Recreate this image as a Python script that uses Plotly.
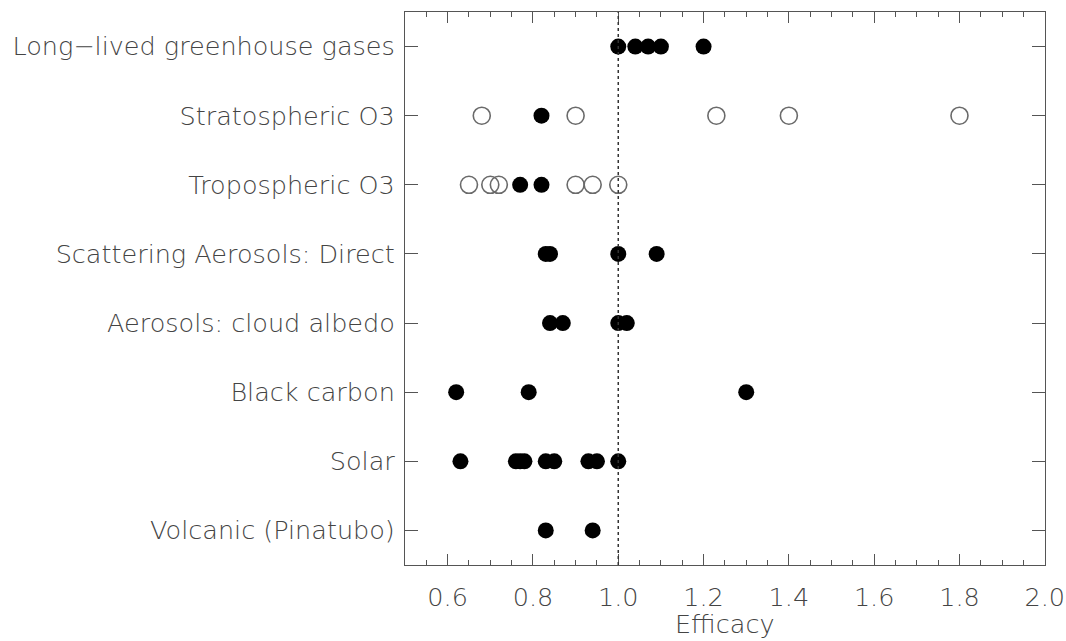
import plotly.graph_objects as go

categories = [
    "Long\u2212lived greenhouse gases",
    "Stratospheric O3",
    "Tropospheric O3",
    "Scattering Aerosols: Direct",
    "Aerosols: cloud albedo",
    "Black carbon",
    "Solar",
    "Volcanic (Pinatubo)",
]

filled_values = [
    [1.00, 1.04, 1.07, 1.10, 1.20],
    [0.82],
    [0.77, 0.82],
    [0.83, 0.84, 1.00, 1.09],
    [0.84, 0.87, 1.00, 1.02],
    [0.62, 0.79, 1.30],
    [0.63, 0.76, 0.77, 0.78, 0.83, 0.85, 0.93, 0.95, 1.00],
    [0.83, 0.94],
]

open_values = [
    [],
    [0.68, 0.90, 1.23, 1.40, 1.80],
    [0.65, 0.70, 0.72, 0.90, 0.94, 1.00],
    [],
    [],
    [],
    [],
    [],
]

x_ticks = [0.6, 0.8, 1.0, 1.2, 1.4, 1.6, 1.8, 2.0]
x_tick_labels = ["0.6", "0.8", "1.0", "1.2", "1.4", "1.6", "1.8", "2.0"]
x_title = "Efficacy"
reference_line = 1.0

fx, fy, ox, oy = [], [], [], []
for cat, fv, ov in zip(categories, filled_values, open_values):
    fx += fv
    fy += [cat] * len(fv)
    ox += ov
    oy += [cat] * len(ov)

FONT = "DejaVu Sans"
TXT = "#444444"
AX = "#555555"
FS = 25.5
tf = dict(family=FONT, size=FS, color=TXT, weight=200)

fig = go.Figure()
fig.add_trace(go.Scatter(
    x=ox, y=oy, mode="markers",
    marker=dict(symbol="circle-open", size=17, color="#6a6a6a", line=dict(width=1.6)),
    showlegend=False, hoverinfo="x+y",
))
fig.add_trace(go.Scatter(
    x=fx, y=fy, mode="markers",
    marker=dict(symbol="circle", size=16, color="black", line=dict(width=0)),
    showlegend=False, hoverinfo="x+y",
))

fig.add_shape(type="line", xref="x", yref="paper",
              x0=reference_line, x1=reference_line, y0=0, y1=1,
              line=dict(color="#333333", width=1.5, dash="dot"))

fig.add_annotation(text=x_title, xref="paper", yref="paper", x=0.5, y=0,
                   xanchor="center", yanchor="middle", yshift=-59,
                   showarrow=False, font=tf)

fig.update_layout(
    width=1066, height=641,
    margin=dict(l=405, r=21, t=12, b=76, autoexpand=False),
    paper_bgcolor="white", plot_bgcolor="white",
    font=tf,
    xaxis=dict(
        range=[0.5, 2.0005],
        tickvals=x_ticks, ticktext=x_tick_labels,
        ticks="inside", ticklen=11, tickwidth=1.2, tickcolor=AX,
        minor=dict(dtick=0.05, tick0=0.5, ticks="inside", ticklen=5, tickcolor=AX, tickwidth=1),
        showline=True, linecolor=AX, linewidth=1.2, mirror="ticks",
        showgrid=False, zeroline=False,
        tickfont=tf,
        ticklabelstandoff=9,
        ticklabeloverflow="allow",
        automargin=False,
    ),
    yaxis=dict(
        type="category",
        categoryorder="array", categoryarray=categories[::-1],
        range=[-0.5, 7.5],
        ticks="inside", ticklen=13, tickwidth=1.2, tickcolor=AX,
        showline=True, linecolor=AX, linewidth=1.2, mirror="ticks",
        showgrid=False, zeroline=False,
        tickfont=tf,
        ticklabelstandoff=4,
        automargin=False,
    ),
)

fig.write_html(
    "out.html",
    config={"displayModeBar": False},
    post_script="document.body.style.margin='0';document.body.style.overflow='hidden';",
)
